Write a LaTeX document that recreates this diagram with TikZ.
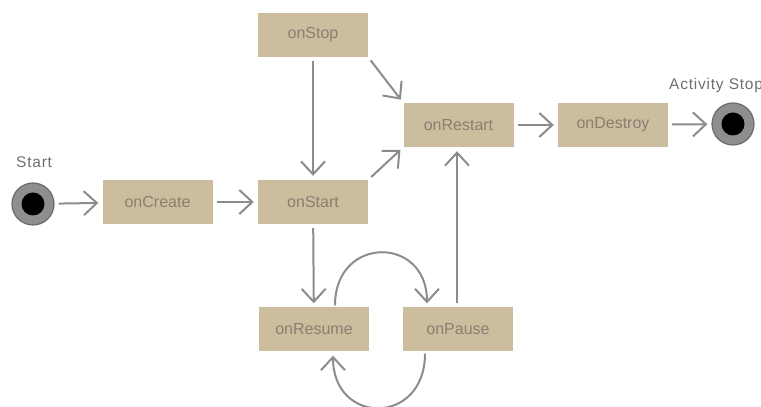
\documentclass[tikz,border=0pt]{standalone}
\usepackage{fontspec}
\setmainfont{Liberation Sans}
\newfontfamily\captionface[LetterSpace=5]{Liberation Sans}
\usetikzlibrary{arrows.meta}
\definecolor{boxtan}{HTML}{CBBD9E}
\definecolor{boxtext}{HTML}{8A7F70}
\definecolor{linegray}{HTML}{8C8C8C}
\definecolor{ringgray}{HTML}{8E8E8E}
\definecolor{ringedge}{HTML}{6A6A6A}
\definecolor{labelgray}{HTML}{707070}
\tikzset{
  x=1pt, y=1pt,
  state/.style={fill=boxtan, minimum width=110pt, minimum height=44pt, inner sep=0pt,
    text=boxtext, font=\fontsize{16}{16}\selectfont},
  endpoint/.style={circle, fill=ringgray, draw=ringedge, line width=1.2pt,
    minimum size=42pt, inner sep=0pt},
  core/.style={circle, fill=black, minimum size=23pt, inner sep=0pt},
  flow/.style={draw=linegray, line width=2pt,
    -{Straight Barb[length=13pt,width=24pt,line width=2pt]},
    shorten >=4pt, shorten <=4pt},
  caption/.style={text=labelgray, font=\captionface\fontsize{15.5}{15.5}\selectfont, inner sep=0pt}
}
\begin{document}
\begin{tikzpicture}
\useasboundingbox (0,0) rectangle (761,407);
\fill[white] (0,0) rectangle (761,407);

% lifecycle states
\node[state] (stop)    at (313,372)  {onStop};
\node[state] (create)  at (157.5,205) {onCreate};
\node[state] (start)   at (313,205)  {onStart};
\node[state] (restart) at (458.5,282) {onRestart};
\node[state] (destroy) at (613,282)  {onDestroy};
\node[state] (resume)  at (314,77.5) {onResume};
\node[state] (pause)   at (458,77.5) {onPause};

% initial and final markers
\node[endpoint] (init) at (33,203) {};
\node[core] at (init) {};
\node[endpoint] (final) at (733,283) {};
\node[core] at (final) {};
\node[caption, anchor=west] (initlbl) at (16,245) {Start};
\node[caption, anchor=west] (finallbl) at (669,322) {Activity Stops};

% transitions
\draw[flow] (init) -- (create);
\draw[flow] (create) -- (start);
\draw[flow] (stop) -- (start);
\draw[flow] (stop.south east) -- (restart.north west);
\draw[flow] (start.north east) -- (restart.south west);
\draw[flow] (restart) -- (destroy);
\draw[flow] (destroy) -- (final);
\draw[flow] (start) -- (resume);
\draw[flow] (pause.north -| 457,0) -- (restart.south -| 457,0);

% resume / pause loop
\draw[flow, shorten <=2pt] ([xshift=21pt]resume.north)
  .. controls +(0,72) and +(0,72) .. ([xshift=-31pt]pause.north);
\draw[flow, shorten <=2pt] ([xshift=-33pt]pause.south)
  .. controls +(0,-74) and +(0,-74) .. ([xshift=19pt]resume.south);
\end{tikzpicture}
\end{document}
